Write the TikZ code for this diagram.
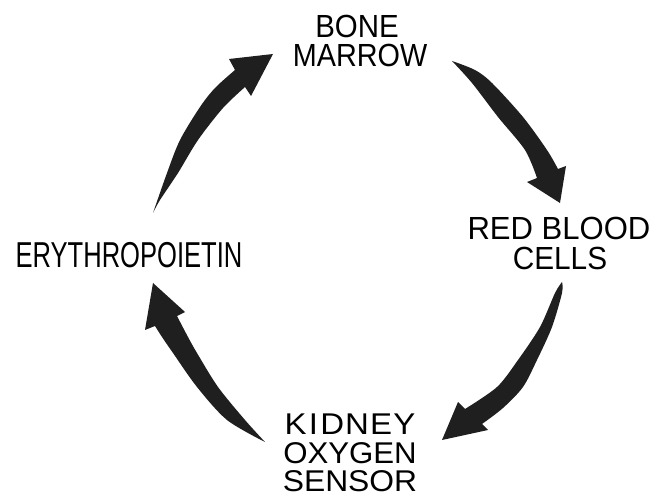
\documentclass[tikz,border=0pt]{standalone}
\usepackage{fontspec}
\usepackage{graphicx}
\setmainfont{Liberation Sans}
\begin{document}
\begin{tikzpicture}[x=1pt,y=-1pt,
  lbl/.style={inner sep=0pt, anchor=base, font=\fontsize{32}{32}\selectfont},
  smlbl/.style={lbl, font=\fontsize{30}{30}\selectfont},
  biglbl/.style={lbl, font=\fontsize{36}{36}\selectfont},
  arr/.style={fill=black!88, draw=none}]
\useasboundingbox (0,0) rectangle (654,497);

% labels
\node[lbl] (bone)   at (357,38)  {\scalebox{0.92}[1]{BONE}};
\node[lbl] (marrow) at (360,67)  {\scalebox{0.90}[1]{MARROW}};
\node[lbl] (red)    at (559,240) {\scalebox{0.97}[1]{RED BLOOD}};
\node[lbl] (cells)  at (560,270) {\scalebox{0.93}[1]{CELLS}};
\node[biglbl] (epo) at (129,268) {\scalebox{0.71}[1]{ERYTHROPOIETIN}};
\node[smlbl] (kidney) at (350,434) {\scalebox{1.1}[1]{K\kern2pt I\kern2pt D\kern1pt N\kern1pt E\kern1pt Y}};
\node[smlbl] (oxygen) at (350,463) {\scalebox{1.04}[1]{OXYGEN}};
\node[smlbl] (sensor) at (350,491) {\scalebox{1.06}[1]{SENSOR}};

% arrow: erythropoietin -> bone marrow
\coordinate (t1) at (153,213);
\coordinate (h1) at (273,54);
\fill[arr] plot[smooth] coordinates {(t1) (167,173) (180,140) (200,107) (215,88) (235,70)}
  -- (229,59) -- (h1) -- (251,96)
  -- plot[smooth] coordinates {(245,87) (223,108) (198,140) (178,173) (160,200) (t1)} -- cycle;

% arrow: bone marrow -> red blood cells
\coordinate (t2) at (452,61);
\coordinate (h2) at (560,203);
\fill[arr] plot[smooth] coordinates {(t2) (475,70) (492,83) (523,117) (547,150) (558,169)}
  -- (566,166) -- (h2) -- (527,182)
  -- plot[smooth] coordinates {(537,178) (525,150) (498,117) (472,83) (t2)} -- cycle;

% arrow: red blood cells -> kidney
\coordinate (t3) at (562,282);
\coordinate (h3) at (442,440);
\fill[arr] plot[smooth] coordinates {(t3) (562,293) (552,327) (537,360) (523,387) (503,408) (482,424)}
  -- (488,430) -- (h3) -- (458,402)
  -- plot[smooth] coordinates {(465,409) (497,387) (518,360) (540,327) (555,293) (t3)} -- cycle;

% arrow: kidney -> erythropoietin
\coordinate (t4) at (265,442);
\coordinate (h4) at (153,283);
\fill[arr] plot[smooth] coordinates {(t4) (227,420) (197,387) (173,353) (162,337) (155,326)}
  -- (145,330) -- (h4) -- (185,312)
  -- plot[smooth] coordinates {(177,316) (188,337) (197,353) (218,387) (245,420) (t4)} -- cycle;
\end{tikzpicture}
\end{document}
